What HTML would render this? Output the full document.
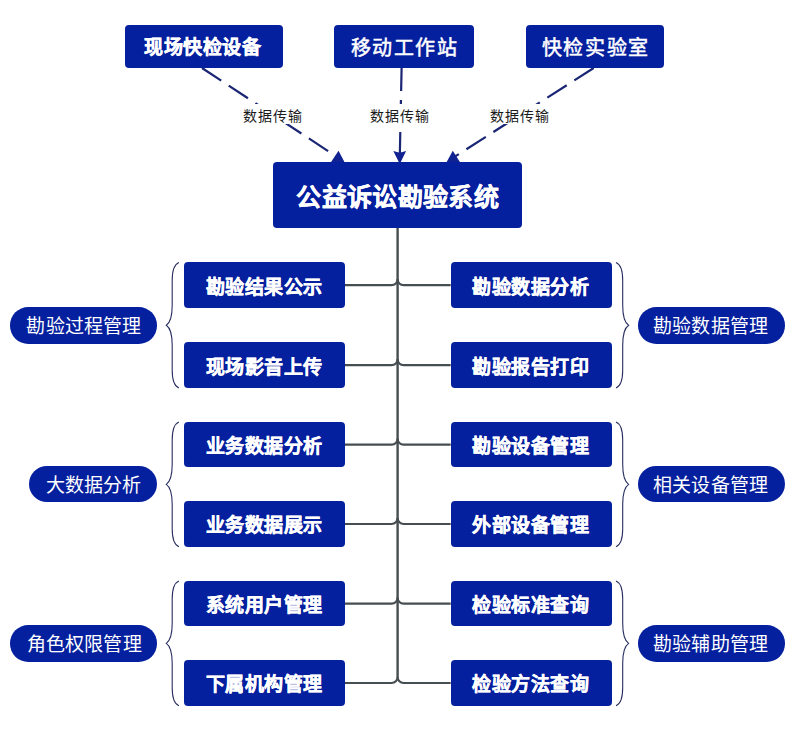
<!DOCTYPE html>
<html lang="zh-CN"><head><meta charset="utf-8"><style>
html,body{margin:0;padding:0;background:#fff;width:798px;height:751px;overflow:hidden}
body{position:relative;font-family:"Liberation Sans",sans-serif}
.box{position:absolute;background:#05209e;color:#fff;display:flex;align-items:center;justify-content:center;white-space:nowrap;box-sizing:border-box}
.lbl{position:absolute;color:#1a1a1a;font-size:14px;letter-spacing:1px;display:flex;align-items:center;justify-content:center;white-space:nowrap;box-sizing:border-box}
</style></head><body>
<svg width="798" height="751" style="position:absolute;left:0;top:0"><line x1="397.6" y1="228" x2="397.6" y2="677.00" stroke="#474e51" stroke-width="2.4"/><path d="M345.0 285.20 H391.6 A6 6 0 0 0 397.6 279.20" fill="none" stroke="#474e51" stroke-width="2.2"/><path d="M450.7 285.20 H403.6 A6 6 0 0 1 397.6 279.20" fill="none" stroke="#474e51" stroke-width="2.2"/><path d="M345.0 365.20 H391.6 A6 6 0 0 0 397.6 359.20" fill="none" stroke="#474e51" stroke-width="2.2"/><path d="M450.7 365.20 H403.6 A6 6 0 0 1 397.6 359.20" fill="none" stroke="#474e51" stroke-width="2.2"/><path d="M345.0 444.70 H391.6 A6 6 0 0 0 397.6 438.70" fill="none" stroke="#474e51" stroke-width="2.2"/><path d="M450.7 444.70 H403.6 A6 6 0 0 1 397.6 438.70" fill="none" stroke="#474e51" stroke-width="2.2"/><path d="M345.0 524.00 H391.6 A6 6 0 0 0 397.6 518.00" fill="none" stroke="#474e51" stroke-width="2.2"/><path d="M450.7 524.00 H403.6 A6 6 0 0 1 397.6 518.00" fill="none" stroke="#474e51" stroke-width="2.2"/><path d="M345.0 603.70 H391.6 A6 6 0 0 0 397.6 597.70" fill="none" stroke="#474e51" stroke-width="2.2"/><path d="M450.7 603.70 H403.6 A6 6 0 0 1 397.6 597.70" fill="none" stroke="#474e51" stroke-width="2.2"/><path d="M345.0 683.00 H391.6 A6 6 0 0 0 397.6 677.00" fill="none" stroke="#474e51" stroke-width="2.2"/><path d="M450.7 683.00 H403.6 A6 6 0 0 1 397.6 677.00" fill="none" stroke="#474e51" stroke-width="2.2"/><path d="M178.9 262.4 C173.88 264.4 172.2 270.4 172.2 280.4 L172.2 305.2 C172.2 316.2 170.86 322.2 166.3 325.2 C170.86 328.2 172.2 334.2 172.2 345.2 L172.2 370.0 C172.2 380.0 173.88 386.0 178.9 388.0" fill="none" stroke="#282e60" stroke-width="1.1"/><path d="M616 262.4 C621.03 264.4 622.7 270.4 622.7 280.4 L622.7 305.2 C622.7 316.2 624.04 322.2 628.6 325.2 C624.04 328.2 622.7 334.2 622.7 345.2 L622.7 370.0 C622.7 380.0 621.03 386.0 616 388.0" fill="none" stroke="#282e60" stroke-width="1.1"/><path d="M178.9 421.9 C173.88 423.9 172.2 429.9 172.2 439.9 L172.2 464.34999999999997 C172.2 475.34999999999997 170.86 481.34999999999997 166.3 484.34999999999997 C170.86 487.34999999999997 172.2 493.34999999999997 172.2 504.34999999999997 L172.2 528.8 C172.2 538.8 173.88 544.8 178.9 546.8" fill="none" stroke="#282e60" stroke-width="1.1"/><path d="M616 421.9 C621.03 423.9 622.7 429.9 622.7 439.9 L622.7 464.34999999999997 C622.7 475.34999999999997 624.04 481.34999999999997 628.6 484.34999999999997 C624.04 487.34999999999997 622.7 493.34999999999997 622.7 504.34999999999997 L622.7 528.8 C622.7 538.8 621.03 544.8 616 546.8" fill="none" stroke="#282e60" stroke-width="1.1"/><path d="M178.9 580.9 C173.88 582.9 172.2 588.9 172.2 598.9 L172.2 623.35 C172.2 634.35 170.86 640.35 166.3 643.35 C170.86 646.35 172.2 652.35 172.2 663.35 L172.2 687.8000000000001 C172.2 697.8000000000001 173.88 703.8000000000001 178.9 705.8000000000001" fill="none" stroke="#282e60" stroke-width="1.1"/><path d="M616 580.9 C621.03 582.9 622.7 588.9 622.7 598.9 L622.7 623.35 C622.7 634.35 624.04 640.35 628.6 643.35 C624.04 646.35 622.7 652.35 622.7 663.35 L622.7 687.8000000000001 C622.7 697.8000000000001 621.03 703.8000000000001 616 705.8000000000001" fill="none" stroke="#282e60" stroke-width="1.1"/><line x1="202" y1="68" x2="336.05" y2="156.30" stroke="#1a2574" stroke-width="2.2" stroke-dasharray="23 9"/><polygon points="338.51,150.74 346.46,165.67 329.60,164.27" fill="#102292"/><line x1="401.6" y1="68" x2="399.85" y2="153.5" stroke="#1a2574" stroke-width="2.2" stroke-dasharray="23 9"/><polygon points="393.3,151.1 399.8,152.8 406.1,151.1 399.8,164" fill="#102292"/><line x1="593.7" y1="68" x2="455.18" y2="156.42" stroke="#1a2574" stroke-width="2.2" stroke-dasharray="23 9"/><polygon points="452.79,150.82 444.63,165.64 461.51,164.48" fill="#102292"/><rect x="241.60000000000002" y="104" width="62" height="20" fill="#fff"/><rect x="368.8" y="104" width="62" height="20" fill="#fff"/><rect x="488.20000000000005" y="104" width="62" height="20" fill="#fff"/></svg><div class="lbl" style="left:232.60000000000002px;top:104.5px;width:80px;height:20px;padding-left:1px">数据传输</div><div class="lbl" style="left:359.8px;top:104.5px;width:80px;height:20px;padding-left:1px">数据传输</div><div class="lbl" style="left:479.20000000000005px;top:104.5px;width:80px;height:20px;padding-left:1px">数据传输</div><div class="box" style="left:125px;top:25px;width:158px;height:43px;border-radius:4px;font-size:19px;font-weight:700;letter-spacing:0.5px;-webkit-text-stroke:0.4px #fff"><span style="position:relative;left:-1.25px;top:-1.50px">现场快检设备</span></div><div class="box" style="left:334px;top:25px;width:139.5px;height:42.5px;border-radius:4px;font-size:20px;font-weight:400;letter-spacing:1.6px;-webkit-text-stroke:0.5px #fff"><span style="position:relative;left:0.80px;top:0.00px">移动工作站</span></div><div class="box" style="left:526px;top:25px;width:138px;height:43px;border-radius:4px;font-size:20px;font-weight:400;letter-spacing:1.7px;-webkit-text-stroke:0.5px #fff"><span style="position:relative;left:0.85px;top:0.00px">快检实验室</span></div><div class="box" style="left:272.7px;top:161.5px;width:249.8px;height:66.6px;border-radius:4px;font-size:25px;font-weight:700;letter-spacing:0.35px;-webkit-text-stroke:0.4px #fff"><span style="position:relative;left:0.17px;top:0.00px">公益诉讼勘验系统</span></div><div class="box" style="left:183.5px;top:262.4px;width:161.5px;height:45.6px;border-radius:4px;font-size:19px;font-weight:700;letter-spacing:0.5px;-webkit-text-stroke:0.4px #fff"><span style="position:relative;left:-0.25px;top:0.00px">勘验结果公示</span></div><div class="box" style="left:450.7px;top:262.4px;width:161px;height:45.6px;border-radius:4px;font-size:19px;font-weight:700;letter-spacing:0.5px;-webkit-text-stroke:0.4px #fff"><span style="position:relative;left:-0.25px;top:0.00px">勘验数据分析</span></div><div class="box" style="left:183.5px;top:342.4px;width:161.5px;height:45.6px;border-radius:4px;font-size:19px;font-weight:700;letter-spacing:0.5px;-webkit-text-stroke:0.4px #fff"><span style="position:relative;left:-0.25px;top:0.00px">现场影音上传</span></div><div class="box" style="left:450.7px;top:342.4px;width:161px;height:45.6px;border-radius:4px;font-size:19px;font-weight:700;letter-spacing:0.5px;-webkit-text-stroke:0.4px #fff"><span style="position:relative;left:-0.25px;top:0.00px">勘验报告打印</span></div><div class="box" style="left:183.5px;top:421.9px;width:161.5px;height:45.6px;border-radius:4px;font-size:19px;font-weight:700;letter-spacing:0.5px;-webkit-text-stroke:0.4px #fff"><span style="position:relative;left:-0.25px;top:0.00px">业务数据分析</span></div><div class="box" style="left:450.7px;top:421.9px;width:161px;height:45.6px;border-radius:4px;font-size:19px;font-weight:700;letter-spacing:0.5px;-webkit-text-stroke:0.4px #fff"><span style="position:relative;left:-0.25px;top:0.00px">勘验设备管理</span></div><div class="box" style="left:183.5px;top:501.2px;width:161.5px;height:45.6px;border-radius:4px;font-size:19px;font-weight:700;letter-spacing:0.5px;-webkit-text-stroke:0.4px #fff"><span style="position:relative;left:-0.25px;top:0.00px">业务数据展示</span></div><div class="box" style="left:450.7px;top:501.2px;width:161px;height:45.6px;border-radius:4px;font-size:19px;font-weight:700;letter-spacing:0.5px;-webkit-text-stroke:0.4px #fff"><span style="position:relative;left:-0.25px;top:0.00px">外部设备管理</span></div><div class="box" style="left:183.5px;top:580.9px;width:161.5px;height:45.6px;border-radius:4px;font-size:19px;font-weight:700;letter-spacing:0.5px;-webkit-text-stroke:0.4px #fff"><span style="position:relative;left:-0.25px;top:0.00px">系统用户管理</span></div><div class="box" style="left:450.7px;top:580.9px;width:161px;height:45.6px;border-radius:4px;font-size:19px;font-weight:700;letter-spacing:0.5px;-webkit-text-stroke:0.4px #fff"><span style="position:relative;left:-0.25px;top:0.00px">检验标准查询</span></div><div class="box" style="left:183.5px;top:660.2px;width:161.5px;height:45.6px;border-radius:4px;font-size:19px;font-weight:700;letter-spacing:0.5px;-webkit-text-stroke:0.4px #fff"><span style="position:relative;left:-0.25px;top:0.00px">下属机构管理</span></div><div class="box" style="left:450.7px;top:660.2px;width:161px;height:45.6px;border-radius:4px;font-size:19px;font-weight:700;letter-spacing:0.5px;-webkit-text-stroke:0.4px #fff"><span style="position:relative;left:-0.25px;top:0.00px">检验方法查询</span></div><div class="box" style="left:9.6px;top:307px;width:147.4px;height:36.6px;border-radius:18.3px;font-size:19px;font-weight:400;letter-spacing:0.2px;-webkit-text-stroke:0px #fff"><span style="position:relative;left:0.80px;top:-0.80px">勘验过程管理</span></div><div class="box" style="left:28.8px;top:465.7px;width:128.2px;height:36.6px;border-radius:18.3px;font-size:19px;font-weight:400;letter-spacing:0.2px;-webkit-text-stroke:0px #fff"><span style="position:relative;left:0.80px;top:-0.80px">大数据分析</span></div><div class="box" style="left:10px;top:625.2px;width:147px;height:36.6px;border-radius:18.3px;font-size:19px;font-weight:400;letter-spacing:0.2px;-webkit-text-stroke:0px #fff"><span style="position:relative;left:0.80px;top:-0.80px">角色权限管理</span></div><div class="box" style="left:638px;top:307px;width:147px;height:36.6px;border-radius:18.3px;font-size:19px;font-weight:400;letter-spacing:0.2px;-webkit-text-stroke:0px #fff"><span style="position:relative;left:-0.90px;top:-0.80px">勘验数据管理</span></div><div class="box" style="left:638px;top:465.7px;width:147px;height:36.6px;border-radius:18.3px;font-size:19px;font-weight:400;letter-spacing:0.2px;-webkit-text-stroke:0px #fff"><span style="position:relative;left:-0.90px;top:-0.80px">相关设备管理</span></div><div class="box" style="left:638px;top:625.2px;width:147px;height:36.6px;border-radius:18.3px;font-size:19px;font-weight:400;letter-spacing:0.2px;-webkit-text-stroke:0px #fff"><span style="position:relative;left:-0.90px;top:-0.80px">勘验辅助管理</span></div>
</body></html>
